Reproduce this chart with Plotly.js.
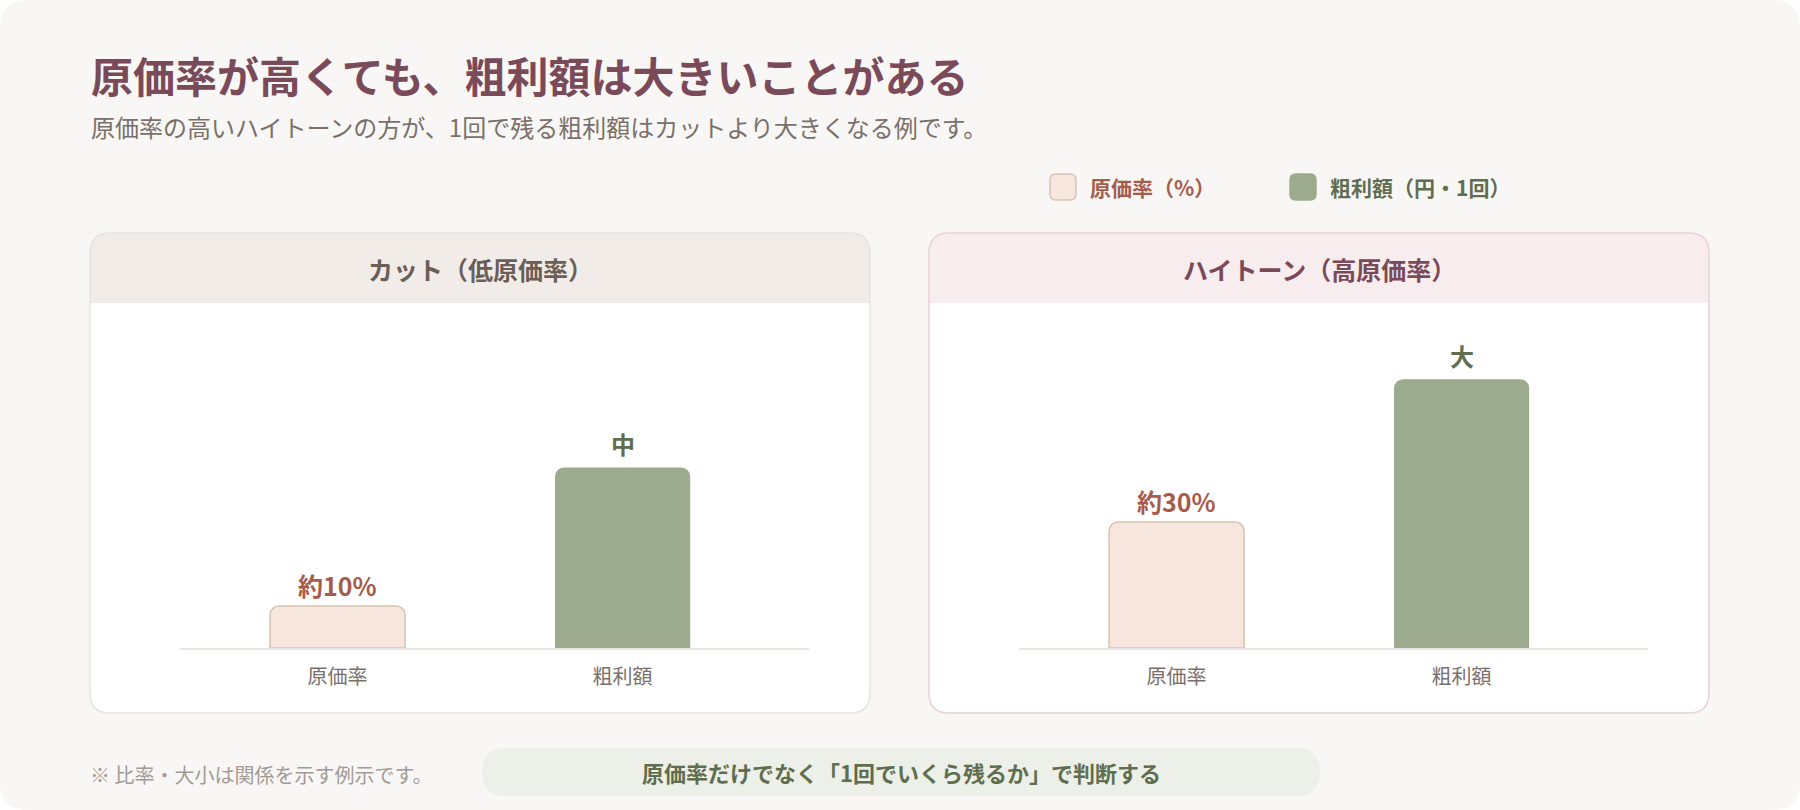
<!DOCTYPE html>
<html lang="ja">
<head>
<meta charset="utf-8">
<script src="https://cdn.plot.ly/plotly-3.0.1.min.js"></script>
<style>
  html, body { margin: 0; padding: 0; background: #ffffff; }
  #chart { width: 1800px; height: 810px; }
</style>
</head>
<body>
<div id="chart"></div>
<script>
// ---- data ----
const titleText = '原価率が高くても、粗利額は大きいことがある';
const subtitleText = '原価率の高いハイトーンの方が、1回で残る粗利額はカットより大きくなる例です。';
const panels = ['カット（低原価率）', 'ハイトーン（高原価率）'];
const categories = ['原価率', '粗利額'];
const seriesNames = ['原価率（%）', '粗利額（円・1回）'];
const costRate = [10, 30];                 // %
const costLabels = ['約10%', '約30%'];
const grossProfitRel = [43, 64];           // relative bar height (same scale units)
const grossLabels = ['中', '大'];
const footnote = '※ 比率・大小は関係を示す例示です。';
const takeaway = '原価率だけでなく「1回でいくら残るか」で判断する';

// ---- style ----
const W = 1800, H = 810;
const FONT = '"Noto Sans CJK JP", "Noto Sans", sans-serif';
const C = {
  card: '#f8f7f5',
  title: '#7b4a59',
  sub: '#7a706b',
  costFill: '#f7e6de', costLine: '#d8c2b1', costText: '#a65c4b',
  grossFill: '#9caa8e', grossText: '#5f6e4f',
  base: '#ebe5e1', tick: '#7a706b',
  note: '#a39a95', pill: '#edf0e8'
};
const panelStyle = [
  { head: '#f2ece8', border: '#e9e2dd', text: '#6b5e57' },
  { head: '#f7edef', border: '#e9d1d9', text: '#7b4a59' }
];

const X = px => px / W;
const Y = py => 1 - py / H;
function rr(x0, y0, x1, y1, r, topOnly) {
  const p = [];
  p.push(`M${X(x0 + r)},${Y(y0)}`);
  p.push(`L${X(x1 - r)},${Y(y0)}`);
  p.push(`Q${X(x1)},${Y(y0)} ${X(x1)},${Y(y0 + r)}`);
  if (topOnly) {
    p.push(`L${X(x1)},${Y(y1)}`);
    p.push(`L${X(x0)},${Y(y1)}`);
  } else {
    p.push(`L${X(x1)},${Y(y1 - r)}`);
    p.push(`Q${X(x1)},${Y(y1)} ${X(x1 - r)},${Y(y1)}`);
    p.push(`L${X(x0 + r)},${Y(y1)}`);
    p.push(`Q${X(x0)},${Y(y1)} ${X(x0)},${Y(y1 - r)}`);
  }
  p.push(`L${X(x0)},${Y(y0 + r)}`);
  p.push(`Q${X(x0)},${Y(y0)} ${X(x0 + r)},${Y(y0)}`);
  p.push('Z');
  return p.join(' ');
}

const panelX = [90, 929], panelW = 780, panelTop = 233, panelBottom = 713, headBottom = 303;
const plotLeftOff = 90, plotWidth = 629;   // baseline from panel left
const baseY = 648, plotTopY = 312;

const shapes = [];
const annotations = [];
shapes.push({ type: 'path', xref: 'paper', yref: 'paper', layer: 'below', path: rr(0, 0, W, H, 28), fillcolor: C.card, line: { width: 0 } });

const traces = [];
const layout = {
  width: W, height: H,
  margin: { l: 0, r: 0, t: 0, b: 0 },
  paper_bgcolor: '#ffffff',
  plot_bgcolor: 'rgba(0,0,0,0)',
  barmode: 'overlay',
  showlegend: false,
  font: { family: FONT },
  shapes, annotations
};

panels.forEach((name, i) => {
  const px0 = panelX[i], px1 = px0 + panelW, st = panelStyle[i];
  shapes.push({ type: 'path', xref: 'paper', yref: 'paper', layer: 'below', path: rr(px0, panelTop, px1, panelBottom, 20), fillcolor: '#ffffff', line: { width: 0 } });
  shapes.push({ type: 'path', xref: 'paper', yref: 'paper', layer: 'below', path: rr(px0, panelTop, px1, headBottom, 20, true), fillcolor: st.head, line: { width: 0 } });
  shapes.push({ type: 'path', xref: 'paper', yref: 'paper', layer: 'below', path: rr(px0, panelTop, px1, panelBottom, 20), fillcolor: 'rgba(0,0,0,0)', line: { color: st.border, width: 1.5 } });
  annotations.push({ xref: 'paper', yref: 'paper', x: X((px0 + px1) / 2), y: Y(269), xanchor: 'center', yanchor: 'middle', showarrow: false, text: name, font: { family: FONT, size: 25, color: st.text, weight: 700 } });

  const suf = i === 0 ? '' : '2';
  const xa = 'x' + suf, ya = 'y' + suf;
  const d0 = X(px0 + plotLeftOff), d1 = X(px0 + plotLeftOff + plotWidth);
  layout['xaxis' + suf] = {
    domain: [d0, d1], anchor: ya, type: 'category',
    range: [-0.553, 1.654], fixedrange: true,
    showgrid: false, zeroline: false,
    showline: true, linecolor: C.base, linewidth: 2,
    ticks: '', ticklabelstandoff: 10,
    tickfont: { family: FONT, size: 20, color: C.tick }
  };
  layout['yaxis' + suf] = {
    domain: [Y(baseY), Y(plotTopY)], anchor: xa,
    range: [0, 80], fixedrange: true,
    showgrid: false, zeroline: false, showline: false, showticklabels: false
  };
  traces.push({
    type: 'bar', name: seriesNames[0], x: [categories[0]], y: [costRate[i]],
    xaxis: xa, yaxis: ya, width: 0.474,
    marker: { color: C.costFill, line: { color: C.costLine, width: 1.5 }, cornerradius: 9 },
    hoverinfo: 'skip'
  });
  traces.push({
    type: 'bar', name: seriesNames[1], x: [categories[1]], y: [grossProfitRel[i]],
    xaxis: xa, yaxis: ya, width: 0.474,
    marker: { color: C.grossFill, line: { width: 0 }, cornerradius: 9 },
    hoverinfo: 'skip'
  });
  // value labels above bars, placed through the axis scales
  annotations.push({ xref: xa, yref: ya, x: categories[0], y: costRate[i], yshift: 21, xanchor: 'center', yanchor: 'middle', showarrow: false, text: costLabels[i], font: { family: FONT, size: 25, color: C.costText, weight: 700 } });
  annotations.push({ xref: xa, yref: ya, x: categories[1], y: grossProfitRel[i], yshift: 24, xanchor: 'center', yanchor: 'middle', showarrow: false, text: grossLabels[i], font: { family: FONT, size: 24, color: C.grossText, weight: 700 } });
});

// title & subtitle
annotations.push({ xref: 'paper', yref: 'paper', x: X(89), y: Y(75), xanchor: 'left', yanchor: 'middle', showarrow: false, text: titleText, font: { family: FONT, size: 42, color: C.title, weight: 700 } });
annotations.push({ xref: 'paper', yref: 'paper', x: X(89), y: Y(127), xanchor: 'left', yanchor: 'middle', showarrow: false, text: subtitleText, font: { family: FONT, size: 24, color: C.sub } });

// legend
const legBox = [1050, 1290];
const legFill = [C.costFill, C.grossFill], legLine = [C.costLine, C.grossFill], legText = [C.costText, C.grossText];
seriesNames.forEach((n, i) => {
  shapes.push({ type: 'path', xref: 'paper', yref: 'paper', layer: 'above', path: rr(legBox[i], 174, legBox[i] + 26, 200, 6), fillcolor: legFill[i], line: { color: legLine[i], width: 1.5 } });
  annotations.push({ xref: 'paper', yref: 'paper', x: X(legBox[i] + 38), y: Y(187), xanchor: 'left', yanchor: 'middle', showarrow: false, text: n, font: { family: FONT, size: 21, color: legText[i], weight: 700 } });
});

// footer
annotations.push({ xref: 'paper', yref: 'paper', x: X(88), y: Y(774), xanchor: 'left', yanchor: 'middle', showarrow: false, text: footnote, font: { family: FONT, size: 20, color: C.note } });
shapes.push({ type: 'path', xref: 'paper', yref: 'paper', layer: 'below', path: rr(482, 748, 1320, 796, 24), fillcolor: C.pill, line: { width: 0 } });
annotations.push({ xref: 'paper', yref: 'paper', x: X(901), y: Y(772), xanchor: 'center', yanchor: 'middle', showarrow: false, text: takeaway, font: { family: FONT, size: 22, color: C.grossText, weight: 700 } });

Plotly.newPlot('chart', traces, layout, { displayModeBar: false, staticPlot: true });
</script>
</body>
</html>
